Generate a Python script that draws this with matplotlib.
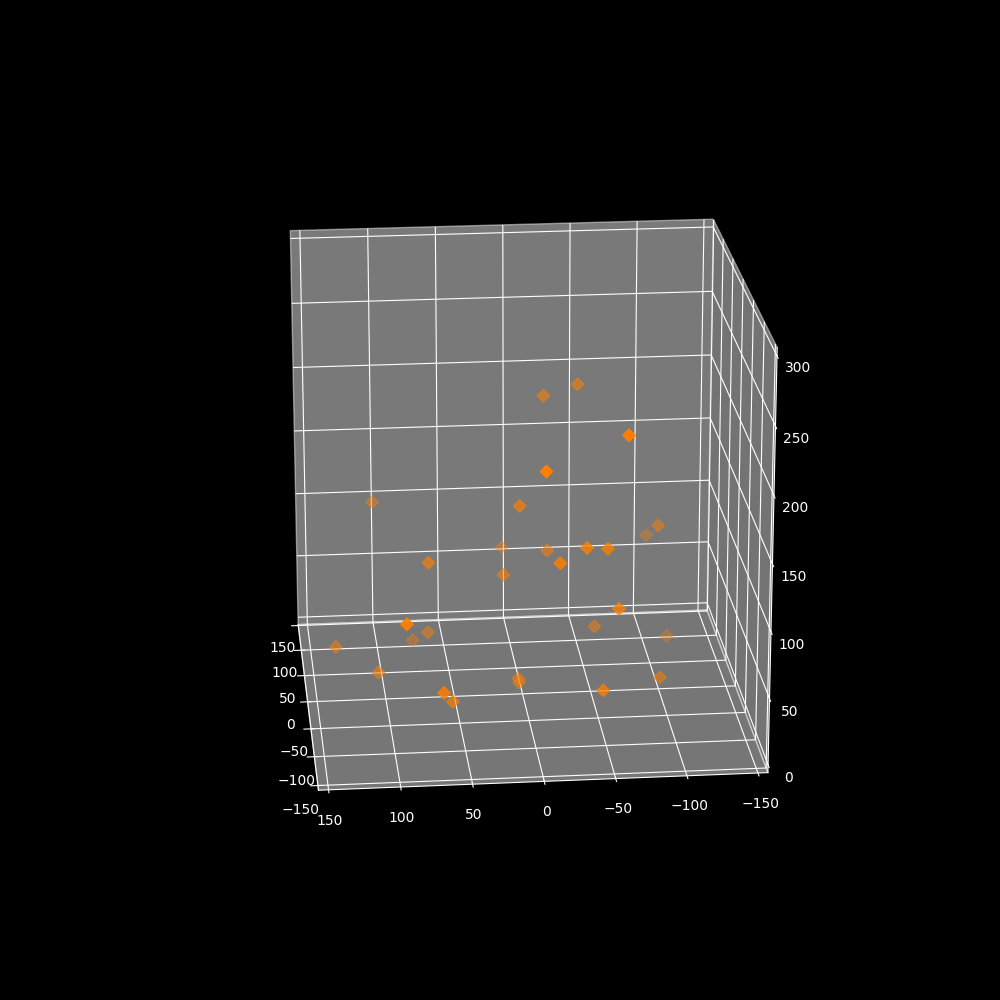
import matplotlib
matplotlib.use("Agg")
import matplotlib.pyplot as plt
plt.style.use('dark_background')

xs = [60, 60, -110, -120, -10, 90, 50, 110, 100, 30, -70, -60, -80, 0, 20,
      -70, -120, 40, 30, 90, 85, 40, 0, 10, 5, 0, -80, -100, -50]
ys = [-46, -21, -63, -5, 3, 103, -105, -104, 6, -21, -39, -55, -19, 68, 12,
      -62, 92, 66, -56, 74, -117, 134, 105, 2, 2, -101, -50, 65, 55]
zs = [211, 203, 230, 209, 144, 114, 103, 73, 71, 94, 133, 128, 126, 99, 80,
      86, 100, 29, 33, 3, 1, 20, 15, 2, 1, 3, 28, 39, 11]
xy_ticks = [-150, -100, -50, 0, 50, 100, 150]

fig = plt.figure(figsize=(10, 10), dpi=100)
ax = fig.add_subplot(projection='3d')
ax.scatter(xs, ys, zs, c='#ff7f00', marker='D', s=40)
ax.set_xlim(-158, 152)
ax.set_ylim(-157, 157)
ax.set_zlim(-6, 306)
ax.set_xticks(xy_ticks)
ax.set_yticks(xy_ticks)
ax.set_box_aspect((310, 314, 312), zoom=0.95)
ax.view_init(elev=20, azim=174.5)
fig.savefig('out.png', dpi=100)
